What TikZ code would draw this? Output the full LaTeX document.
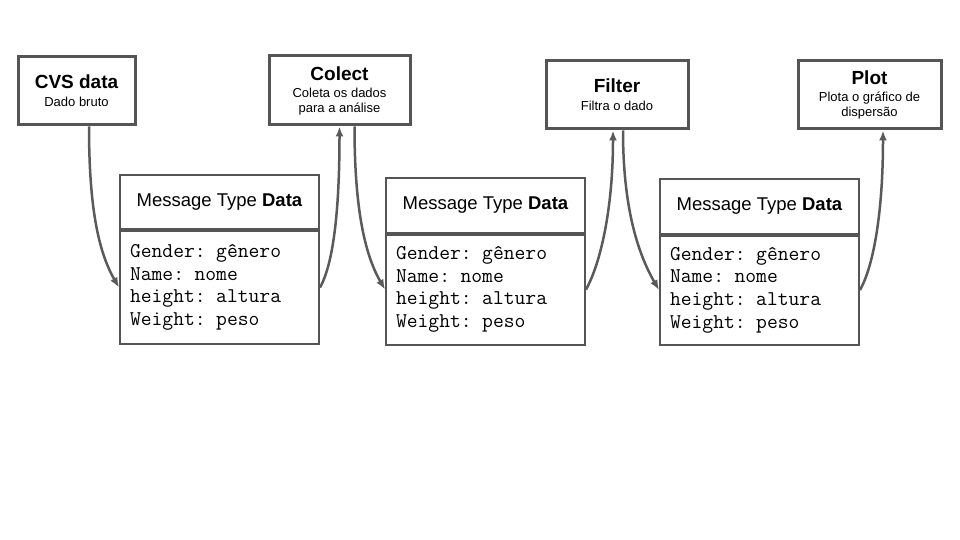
\documentclass[tikz,border=0pt]{standalone}
\usepackage{fontspec}
\setmainfont{Liberation Sans}
\usetikzlibrary{arrows.meta}
\definecolor{boxgray}{HTML}{555555}
\definecolor{arrowgray}{HTML}{5A5A5A}
\tikzset{
  stepbox/.style={draw=boxgray, line width=3pt, fill=white, align=center, minimum width=#1, minimum height=68pt, inner sep=0pt, font=\fontsize{13}{15}\selectfont},
  headbox/.style={draw=boxgray, line width=2pt, minimum width=199pt, minimum height=54pt, inner sep=0pt, font=\fontsize{18.5}{22}\selectfont},
  bodybox/.style={draw=boxgray, line width=2pt, minimum height=113pt, text width=179pt, inner xsep=10pt, inner ysep=0pt, align=left, font=\ttfamily\fontsize{21}{22.6}\selectfont},
  flow/.style={draw=arrowgray, line width=2.5pt, -{Latex[length=10pt,width=8pt]}}
}
\newcommand{\steptitle}[1]{{\bfseries\fontsize{19}{22}\selectfont #1}}
\newcommand{\msgbody}{Gender: gênero\\Name: nome\\height: altura\\Weight: peso}

\begin{document}
\begin{tikzpicture}[x=1pt,y=-1pt]
\useasboundingbox[fill=white] (0,0) rectangle (960,540);

% steps on top
\node[stepbox=117pt] (cvs) at (76.5,91){\steptitle{CVS data}\\[3pt]Dado bruto};
\node[stepbox=141pt,minimum height=69pt] (colect) at (339.5,90.5){\steptitle{Colect}\\[2pt]Coleta os dados\\para a análise};
\node[stepbox=142pt] (filter) at (617,95){\steptitle{Filter}\\[3pt]Filtra o dado};
\node[stepbox=143pt] (plot) at (869.5,95){\steptitle{Plot}\\[2pt]Plota o gráfico de\\dispersão};

% message types
\node[headbox] (head1) at (219.5,202){Message Type \textbf{Data}};
\node[bodybox,anchor=north] (msg1) at (head1.south){\msgbody};
\node[headbox] (head2) at (485.5,205.5){Message Type \textbf{Data}};
\node[bodybox,anchor=north,minimum height=110pt] (msg2) at (head2.south){\msgbody};
\node[headbox] (head3) at (759.5,206.5){Message Type \textbf{Data}};
\node[bodybox,anchor=north,minimum height=109pt] (msg3) at (head3.south){\msgbody};

% flow
\draw[flow] ([xshift=12.5pt]cvs.south) .. controls +(0,75) and +(-22,-38) .. (msg1.west);
\draw[flow] (msg1.east) .. controls +(14,-25) and +(0,80) .. (colect.south);
\draw[flow] ([xshift=15pt]colect.south) .. controls +(0,75) and +(-22,-38) .. (msg2.west);
\draw[flow] (msg2.east) .. controls +(14,-25) and +(0,80) .. ([xshift=-4pt]filter.south);
\draw[flow] ([xshift=6pt]filter.south) .. controls +(0,75) and +(-22,-38) .. (msg3.west);
\draw[flow] (msg3.east) .. controls +(14,-25) and +(0,80) .. ([xshift=13.5pt]plot.south);
\end{tikzpicture}
\end{document}
